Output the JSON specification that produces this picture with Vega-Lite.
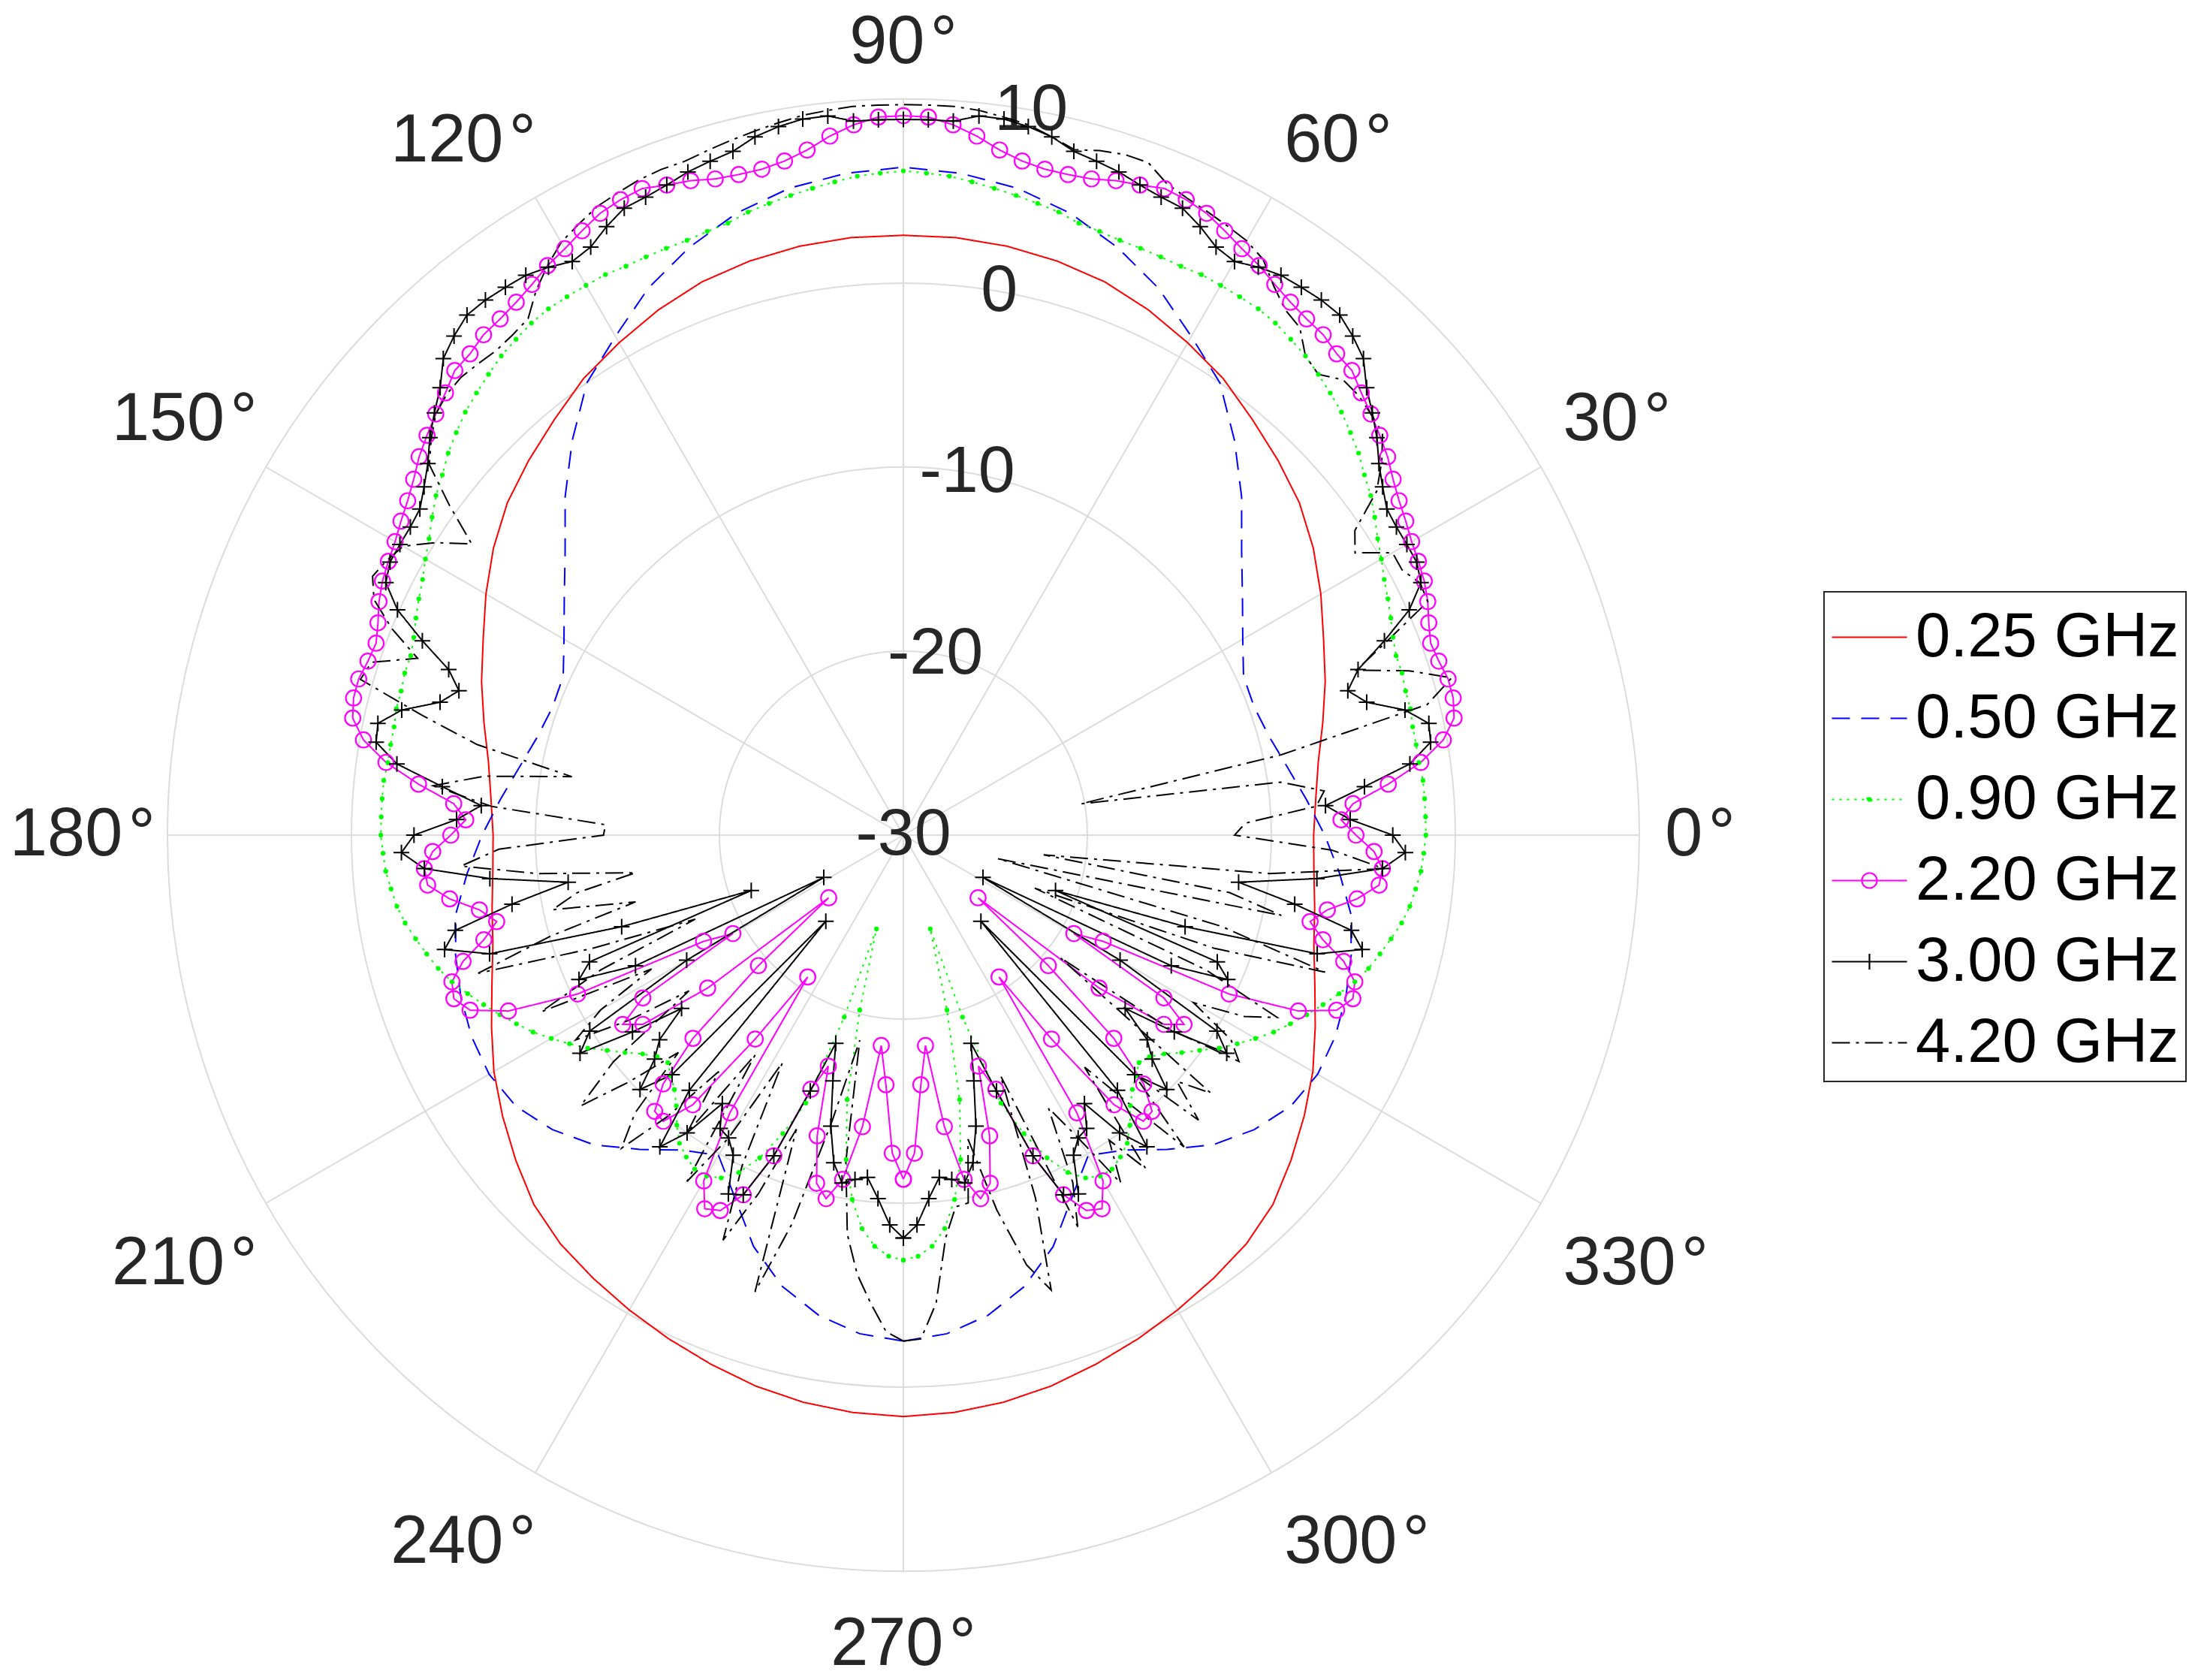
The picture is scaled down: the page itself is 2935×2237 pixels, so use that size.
{
  "$schema": "https://vega.github.io/schema/vega-lite/v6.json",
  "width": 1960,
  "height": 1960,
  "autosize": {"type": "none"},
  "padding": {"left": 223, "top": 132, "right": 752, "bottom": 145},
  "background": "#ffffff",
  "config": {"view": {"stroke": null}},
  "datasets": {
    "rings": [{"rr": 10}, {"rr": 20}, {"rr": 30}, {"rr": 40}],
    "spokes": [{"a": 0}, {"a": 30}, {"a": 60}, {"a": 90}, {"a": 120}, {"a": 150}, {"a": 180}, {"a": 210}, {"a": 240}, {"a": 270}, {"a": 300}, {"a": 330}],
    "alabels": [
      {"a": 0, "lab": "0\u200a°"}, {"a": 30, "lab": "30\u200a°"}, {"a": 60, "lab": "60\u200a°"}, {"a": 90, "lab": "90\u200a°"},
      {"a": 120, "lab": "120\u200a°"}, {"a": 150, "lab": "150\u200a°"}, {"a": 180, "lab": "180\u200a°"}, {"a": 210, "lab": "210\u200a°"},
      {"a": 240, "lab": "240\u200a°"}, {"a": 270, "lab": "270\u200a°"}, {"a": 300, "lab": "300\u200a°"}, {"a": 330, "lab": "330\u200a°"}
    ],
    "rlabels": [{"v": -30, "lab": "-30"}, {"v": -20, "lab": "-20"}, {"v": -10, "lab": "-10"}, {"v": 0, "lab": "0"}, {"v": 10, "lab": "10"}],
    "curves": [
      {"s":"0.25 GHz","t":-90,"r":1.6},{"s":"0.25 GHz","t":-85,"r":1.5},{"s":"0.25 GHz","t":-80,"r":1.3},{"s":"0.25 GHz","t":-75,"r":1.0},{"s":"0.25 GHz","t":-70,"r":0.6},{"s":"0.25 GHz","t":-65,"r":0.2},{"s":"0.25 GHz","t":-60,"r":-0.2},{"s":"0.25 GHz","t":-55,"r":-0.6},{"s":"0.25 GHz","t":-50,"r":-1.0},{"s":"0.25 GHz","t":-45,"r":-1.6},{"s":"0.25 GHz","t":-40,"r":-2.5},{"s":"0.25 GHz","t":-35,"r":-3.4},{"s":"0.25 GHz","t":-30,"r":-4.3},{"s":"0.25 GHz","t":-25,"r":-5.3},{"s":"0.25 GHz","t":-20,"r":-6.2},{"s":"0.25 GHz","t":-15,"r":-6.9},{"s":"0.25 GHz","t":-10,"r":-7.3},{"s":"0.25 GHz","t":-5,"r":-7.6},{"s":"0.25 GHz","t":0,"r":-7.7},{"s":"0.25 GHz","t":5,"r":-7.5},{"s":"0.25 GHz","t":10,"r":-7.1},{"s":"0.25 GHz","t":15,"r":-6.4},{"s":"0.25 GHz","t":20,"r":-5.6},{"s":"0.25 GHz","t":25,"r":-4.8},{"s":"0.25 GHz","t":30,"r":-3.8},{"s":"0.25 GHz","t":35,"r":-2.8},{"s":"0.25 GHz","t":40,"r":-1.9},{"s":"0.25 GHz","t":45,"r":-1.2},{"s":"0.25 GHz","t":50,"r":-0.5},{"s":"0.25 GHz","t":55,"r":0.3},{"s":"0.25 GHz","t":60,"r":0.9},{"s":"0.25 GHz","t":65,"r":1.5},{"s":"0.25 GHz","t":70,"r":2.0},{"s":"0.25 GHz","t":75,"r":2.3},{"s":"0.25 GHz","t":80,"r":2.5},{"s":"0.25 GHz","t":85,"r":2.6},{"s":"0.25 GHz","t":90,"r":2.6},{"s":"0.25 GHz","t":95,"r":2.6},{"s":"0.25 GHz","t":100,"r":2.5},{"s":"0.25 GHz","t":105,"r":2.3},{"s":"0.25 GHz","t":110,"r":2.0},{"s":"0.25 GHz","t":115,"r":1.5},{"s":"0.25 GHz","t":120,"r":0.9},{"s":"0.25 GHz","t":125,"r":0.3},{"s":"0.25 GHz","t":130,"r":-0.5},{"s":"0.25 GHz","t":135,"r":-1.2},{"s":"0.25 GHz","t":140,"r":-1.9},{"s":"0.25 GHz","t":145,"r":-2.8},{"s":"0.25 GHz","t":150,"r":-3.8},{"s":"0.25 GHz","t":155,"r":-4.8},{"s":"0.25 GHz","t":160,"r":-5.6},{"s":"0.25 GHz","t":165,"r":-6.4},{"s":"0.25 GHz","t":170,"r":-7.1},{"s":"0.25 GHz","t":175,"r":-7.5},{"s":"0.25 GHz","t":180,"r":-7.7},{"s":"0.25 GHz","t":185,"r":-7.6},{"s":"0.25 GHz","t":190,"r":-7.3},{"s":"0.25 GHz","t":195,"r":-6.9},{"s":"0.25 GHz","t":200,"r":-6.2},{"s":"0.25 GHz","t":205,"r":-5.3},{"s":"0.25 GHz","t":210,"r":-4.3},{"s":"0.25 GHz","t":215,"r":-3.4},{"s":"0.25 GHz","t":220,"r":-2.5},{"s":"0.25 GHz","t":225,"r":-1.6},{"s":"0.25 GHz","t":230,"r":-1.0},{"s":"0.25 GHz","t":235,"r":-0.6},{"s":"0.25 GHz","t":240,"r":-0.2},{"s":"0.25 GHz","t":245,"r":0.2},{"s":"0.25 GHz","t":250,"r":0.6},{"s":"0.25 GHz","t":255,"r":1.0},{"s":"0.25 GHz","t":260,"r":1.3},{"s":"0.25 GHz","t":265,"r":1.5},{"s":"0.25 GHz","t":270,"r":1.6},
      {"s":"0.50 GHz","t":-90,"r":-2.5},{"s":"0.50 GHz","t":-85,"r":-2.8},{"s":"0.50 GHz","t":-80,"r":-3.5},{"s":"0.50 GHz","t":-75,"r":-4.6},{"s":"0.50 GHz","t":-70,"r":-6.2},{"s":"0.50 GHz","t":-65,"r":-8.3},{"s":"0.50 GHz","t":-60,"r":-9.9},{"s":"0.50 GHz","t":-55,"r":-9.1},{"s":"0.50 GHz","t":-50,"r":-7.7},{"s":"0.50 GHz","t":-45,"r":-6.2},{"s":"0.50 GHz","t":-40,"r":-5.1},{"s":"0.50 GHz","t":-35,"r":-4.3},{"s":"0.50 GHz","t":-30,"r":-4.0},{"s":"0.50 GHz","t":-25,"r":-4.1},{"s":"0.50 GHz","t":-20,"r":-4.4},{"s":"0.50 GHz","t":-15,"r":-4.8},{"s":"0.50 GHz","t":-10,"r":-5.3},{"s":"0.50 GHz","t":-5,"r":-6.2},{"s":"0.50 GHz","t":0,"r":-7.1},{"s":"0.50 GHz","t":5,"r":-8.0},{"s":"0.50 GHz","t":10,"r":-8.8},{"s":"0.50 GHz","t":15,"r":-9.4},{"s":"0.50 GHz","t":20,"r":-9.7},{"s":"0.50 GHz","t":25,"r":-9.6},{"s":"0.50 GHz","t":30,"r":-8.7},{"s":"0.50 GHz","t":35,"r":-7.5},{"s":"0.50 GHz","t":40,"r":-6.0},{"s":"0.50 GHz","t":45,"r":-4.0},{"s":"0.50 GHz","t":50,"r":-2.0},{"s":"0.50 GHz","t":55,"r":0.0},{"s":"0.50 GHz","t":60,"r":1.3},{"s":"0.50 GHz","t":65,"r":2.8},{"s":"0.50 GHz","t":70,"r":4.0},{"s":"0.50 GHz","t":75,"r":5.0},{"s":"0.50 GHz","t":80,"r":5.7},{"s":"0.50 GHz","t":85,"r":6.1},{"s":"0.50 GHz","t":90,"r":6.3},{"s":"0.50 GHz","t":95,"r":6.1},{"s":"0.50 GHz","t":100,"r":5.7},{"s":"0.50 GHz","t":105,"r":5.0},{"s":"0.50 GHz","t":110,"r":4.0},{"s":"0.50 GHz","t":115,"r":2.8},{"s":"0.50 GHz","t":120,"r":1.3},{"s":"0.50 GHz","t":125,"r":0.0},{"s":"0.50 GHz","t":130,"r":-2.0},{"s":"0.50 GHz","t":135,"r":-4.0},{"s":"0.50 GHz","t":140,"r":-6.0},{"s":"0.50 GHz","t":145,"r":-7.5},{"s":"0.50 GHz","t":150,"r":-8.7},{"s":"0.50 GHz","t":155,"r":-9.6},{"s":"0.50 GHz","t":160,"r":-9.7},{"s":"0.50 GHz","t":165,"r":-9.4},{"s":"0.50 GHz","t":170,"r":-8.8},{"s":"0.50 GHz","t":175,"r":-8.0},{"s":"0.50 GHz","t":180,"r":-7.1},{"s":"0.50 GHz","t":185,"r":-6.2},{"s":"0.50 GHz","t":190,"r":-5.3},{"s":"0.50 GHz","t":195,"r":-4.8},{"s":"0.50 GHz","t":200,"r":-4.4},{"s":"0.50 GHz","t":205,"r":-4.1},{"s":"0.50 GHz","t":210,"r":-4.0},{"s":"0.50 GHz","t":215,"r":-4.3},{"s":"0.50 GHz","t":220,"r":-5.1},{"s":"0.50 GHz","t":225,"r":-6.2},{"s":"0.50 GHz","t":230,"r":-7.7},{"s":"0.50 GHz","t":235,"r":-9.1},{"s":"0.50 GHz","t":240,"r":-9.9},{"s":"0.50 GHz","t":245,"r":-8.3},{"s":"0.50 GHz","t":250,"r":-6.2},{"s":"0.50 GHz","t":255,"r":-4.6},{"s":"0.50 GHz","t":260,"r":-3.5},{"s":"0.50 GHz","t":265,"r":-2.8},{"s":"0.50 GHz","t":270,"r":-2.5},
      {"s":"0.90 GHz","t":-90,"r":-6.9},{"s":"0.90 GHz","t":-88,"r":-7.1},{"s":"0.90 GHz","t":-86,"r":-7.6},{"s":"0.90 GHz","t":-84,"r":-8.5},{"s":"0.90 GHz","t":-82,"r":-10.0},{"s":"0.90 GHz","t":-80,"r":-12.1},{"s":"0.90 GHz","t":-78,"r":-15.3},{"s":"0.90 GHz","t":-76,"r":-20.2},{"s":"0.90 GHz","t":-74,"r":-24.7},{"s":"0.90 GHz","t":-72,"r":-19.6},{"s":"0.90 GHz","t":-70,"r":-14.5},{"s":"0.90 GHz","t":-68,"r":-12.5},{"s":"0.90 GHz","t":-66,"r":-10.8},{"s":"0.90 GHz","t":-64,"r":-9.6},{"s":"0.90 GHz","t":-62,"r":-8.9},{"s":"0.90 GHz","t":-60,"r":-8.6},{"s":"0.90 GHz","t":-58,"r":-8.6},{"s":"0.90 GHz","t":-56,"r":-8.9},{"s":"0.90 GHz","t":-54,"r":-9.3},{"s":"0.90 GHz","t":-52,"r":-10.0},{"s":"0.90 GHz","t":-50,"r":-10.8},{"s":"0.90 GHz","t":-48,"r":-11.4},{"s":"0.90 GHz","t":-46,"r":-11.8},{"s":"0.90 GHz","t":-44,"r":-12.2},{"s":"0.90 GHz","t":-42,"r":-12.0},{"s":"0.90 GHz","t":-40,"r":-11.5},{"s":"0.90 GHz","t":-38,"r":-10.8},{"s":"0.90 GHz","t":-36,"r":-10.1},{"s":"0.90 GHz","t":-34,"r":-9.3},{"s":"0.90 GHz","t":-32,"r":-8.6},{"s":"0.90 GHz","t":-30,"r":-7.9},{"s":"0.90 GHz","t":-28,"r":-7.2},{"s":"0.90 GHz","t":-26,"r":-6.6},{"s":"0.90 GHz","t":-24,"r":-6.0},{"s":"0.90 GHz","t":-22,"r":-5.4},{"s":"0.90 GHz","t":-20,"r":-4.8},{"s":"0.90 GHz","t":-18,"r":-4.2},{"s":"0.90 GHz","t":-16,"r":-3.7},{"s":"0.90 GHz","t":-14,"r":-3.3},{"s":"0.90 GHz","t":-12,"r":-2.9},{"s":"0.90 GHz","t":-10,"r":-2.5},{"s":"0.90 GHz","t":-8,"r":-2.2},{"s":"0.90 GHz","t":-6,"r":-2.0},{"s":"0.90 GHz","t":-4,"r":-1.8},{"s":"0.90 GHz","t":-2,"r":-1.7},{"s":"0.90 GHz","t":0,"r":-1.6},{"s":"0.90 GHz","t":2,"r":-1.6},{"s":"0.90 GHz","t":4,"r":-1.6},{"s":"0.90 GHz","t":6,"r":-1.6},{"s":"0.90 GHz","t":8,"r":-1.7},{"s":"0.90 GHz","t":10,"r":-1.7},{"s":"0.90 GHz","t":12,"r":-1.7},{"s":"0.90 GHz","t":14,"r":-1.6},{"s":"0.90 GHz","t":16,"r":-1.6},{"s":"0.90 GHz","t":18,"r":-1.5},{"s":"0.90 GHz","t":20,"r":-1.5},{"s":"0.90 GHz","t":22,"r":-1.3},{"s":"0.90 GHz","t":24,"r":-1.0},{"s":"0.90 GHz","t":26,"r":-0.7},{"s":"0.90 GHz","t":28,"r":-0.4},{"s":"0.90 GHz","t":30,"r":0.0},{"s":"0.90 GHz","t":32,"r":0.4},{"s":"0.90 GHz","t":34,"r":0.9},{"s":"0.90 GHz","t":36,"r":1.4},{"s":"0.90 GHz","t":38,"r":1.8},{"s":"0.90 GHz","t":40,"r":2.3},{"s":"0.90 GHz","t":42,"r":2.7},{"s":"0.90 GHz","t":44,"r":3.1},{"s":"0.90 GHz","t":46,"r":3.4},{"s":"0.90 GHz","t":48,"r":3.7},{"s":"0.90 GHz","t":50,"r":4.0},{"s":"0.90 GHz","t":52,"r":4.2},{"s":"0.90 GHz","t":54,"r":4.4},{"s":"0.90 GHz","t":56,"r":4.5},{"s":"0.90 GHz","t":58,"r":4.5},{"s":"0.90 GHz","t":60,"r":4.5},{"s":"0.90 GHz","t":62,"r":4.5},{"s":"0.90 GHz","t":64,"r":4.4},{"s":"0.90 GHz","t":66,"r":4.4},{"s":"0.90 GHz","t":68,"r":4.4},{"s":"0.90 GHz","t":70,"r":4.4},{"s":"0.90 GHz","t":72,"r":4.5},{"s":"0.90 GHz","t":74,"r":4.6},{"s":"0.90 GHz","t":76,"r":4.9},{"s":"0.90 GHz","t":78,"r":5.1},{"s":"0.90 GHz","t":80,"r":5.3},{"s":"0.90 GHz","t":82,"r":5.5},{"s":"0.90 GHz","t":84,"r":5.7},{"s":"0.90 GHz","t":86,"r":5.9},{"s":"0.90 GHz","t":88,"r":6.0},{"s":"0.90 GHz","t":90,"r":6.1},{"s":"0.90 GHz","t":92,"r":6.0},{"s":"0.90 GHz","t":94,"r":5.9},{"s":"0.90 GHz","t":96,"r":5.7},{"s":"0.90 GHz","t":98,"r":5.5},{"s":"0.90 GHz","t":100,"r":5.3},{"s":"0.90 GHz","t":102,"r":5.1},{"s":"0.90 GHz","t":104,"r":4.9},{"s":"0.90 GHz","t":106,"r":4.6},{"s":"0.90 GHz","t":108,"r":4.5},{"s":"0.90 GHz","t":110,"r":4.4},{"s":"0.90 GHz","t":112,"r":4.4},{"s":"0.90 GHz","t":114,"r":4.4},{"s":"0.90 GHz","t":116,"r":4.4},{"s":"0.90 GHz","t":118,"r":4.5},{"s":"0.90 GHz","t":120,"r":4.5},{"s":"0.90 GHz","t":122,"r":4.5},{"s":"0.90 GHz","t":124,"r":4.5},{"s":"0.90 GHz","t":126,"r":4.4},{"s":"0.90 GHz","t":128,"r":4.2},{"s":"0.90 GHz","t":130,"r":4.0},{"s":"0.90 GHz","t":132,"r":3.7},{"s":"0.90 GHz","t":134,"r":3.4},{"s":"0.90 GHz","t":136,"r":3.1},{"s":"0.90 GHz","t":138,"r":2.7},{"s":"0.90 GHz","t":140,"r":2.3},{"s":"0.90 GHz","t":142,"r":1.8},{"s":"0.90 GHz","t":144,"r":1.4},{"s":"0.90 GHz","t":146,"r":0.9},{"s":"0.90 GHz","t":148,"r":0.4},{"s":"0.90 GHz","t":150,"r":0.0},{"s":"0.90 GHz","t":152,"r":-0.4},{"s":"0.90 GHz","t":154,"r":-0.7},{"s":"0.90 GHz","t":156,"r":-1.0},{"s":"0.90 GHz","t":158,"r":-1.3},{"s":"0.90 GHz","t":160,"r":-1.5},{"s":"0.90 GHz","t":162,"r":-1.5},{"s":"0.90 GHz","t":164,"r":-1.6},{"s":"0.90 GHz","t":166,"r":-1.6},{"s":"0.90 GHz","t":168,"r":-1.7},{"s":"0.90 GHz","t":170,"r":-1.7},{"s":"0.90 GHz","t":172,"r":-1.7},{"s":"0.90 GHz","t":174,"r":-1.6},{"s":"0.90 GHz","t":176,"r":-1.6},{"s":"0.90 GHz","t":178,"r":-1.6},{"s":"0.90 GHz","t":180,"r":-1.6},{"s":"0.90 GHz","t":182,"r":-1.7},{"s":"0.90 GHz","t":184,"r":-1.8},{"s":"0.90 GHz","t":186,"r":-2.0},{"s":"0.90 GHz","t":188,"r":-2.2},{"s":"0.90 GHz","t":190,"r":-2.5},{"s":"0.90 GHz","t":192,"r":-2.9},{"s":"0.90 GHz","t":194,"r":-3.3},{"s":"0.90 GHz","t":196,"r":-3.7},{"s":"0.90 GHz","t":198,"r":-4.2},{"s":"0.90 GHz","t":200,"r":-4.8},{"s":"0.90 GHz","t":202,"r":-5.4},{"s":"0.90 GHz","t":204,"r":-6.0},{"s":"0.90 GHz","t":206,"r":-6.6},{"s":"0.90 GHz","t":208,"r":-7.2},{"s":"0.90 GHz","t":210,"r":-7.9},{"s":"0.90 GHz","t":212,"r":-8.6},{"s":"0.90 GHz","t":214,"r":-9.3},{"s":"0.90 GHz","t":216,"r":-10.1},{"s":"0.90 GHz","t":218,"r":-10.8},{"s":"0.90 GHz","t":220,"r":-11.5},{"s":"0.90 GHz","t":222,"r":-12.0},{"s":"0.90 GHz","t":224,"r":-12.2},{"s":"0.90 GHz","t":226,"r":-11.8},{"s":"0.90 GHz","t":228,"r":-11.4},{"s":"0.90 GHz","t":230,"r":-10.8},{"s":"0.90 GHz","t":232,"r":-10.0},{"s":"0.90 GHz","t":234,"r":-9.3},{"s":"0.90 GHz","t":236,"r":-8.9},{"s":"0.90 GHz","t":238,"r":-8.6},{"s":"0.90 GHz","t":240,"r":-8.6},{"s":"0.90 GHz","t":242,"r":-8.9},{"s":"0.90 GHz","t":244,"r":-9.6},{"s":"0.90 GHz","t":246,"r":-10.8},{"s":"0.90 GHz","t":248,"r":-12.5},{"s":"0.90 GHz","t":250,"r":-14.5},{"s":"0.90 GHz","t":252,"r":-19.6},{"s":"0.90 GHz","t":254,"r":-24.7},{"s":"0.90 GHz","t":256,"r":-20.2},{"s":"0.90 GHz","t":258,"r":-15.3},{"s":"0.90 GHz","t":260,"r":-12.1},{"s":"0.90 GHz","t":262,"r":-10.0},{"s":"0.90 GHz","t":264,"r":-8.5},{"s":"0.90 GHz","t":266,"r":-7.6},{"s":"0.90 GHz","t":268,"r":-7.1},{"s":"0.90 GHz","t":270,"r":-6.9},
      {"s":"2.20 GHz","t":-90,"r":-11.3},{"s":"2.20 GHz","t":-88,"r":-12.7},{"s":"2.20 GHz","t":-86,"r":-16.4},{"s":"2.20 GHz","t":-84,"r":-18.5},{"s":"2.20 GHz","t":-82,"r":-14.0},{"s":"2.20 GHz","t":-80,"r":-11.0},{"s":"2.20 GHz","t":-78,"r":-9.8},{"s":"2.20 GHz","t":-76,"r":-10.5},{"s":"2.20 GHz","t":-74,"r":-13.0},{"s":"2.20 GHz","t":-72,"r":-16.8},{"s":"2.20 GHz","t":-70,"r":-15.3},{"s":"2.20 GHz","t":-68,"r":-11.2},{"s":"2.20 GHz","t":-66,"r":-8.6},{"s":"2.20 GHz","t":-64,"r":-7.3},{"s":"2.20 GHz","t":-62,"r":-7.0},{"s":"2.20 GHz","t":-60,"r":-8.3},{"s":"2.20 GHz","t":-58,"r":-12.2},{"s":"2.20 GHz","t":-56,"r":-20.7},{"s":"2.20 GHz","t":-54,"r":-16.3},{"s":"2.20 GHz","t":-52,"r":-11.4},{"s":"2.20 GHz","t":-50,"r":-9.7},{"s":"2.20 GHz","t":-48,"r":-9.8},{"s":"2.20 GHz","t":-46,"r":-11.2},{"s":"2.20 GHz","t":-44,"r":-14.1},{"s":"2.20 GHz","t":-42,"r":-19.4},{"s":"2.20 GHz","t":-40,"r":-24.7},{"s":"2.20 GHz","t":-38,"r":-16.5},{"s":"2.20 GHz","t":-36,"r":-12.5},{"s":"2.20 GHz","t":-34,"r":-11.6},{"s":"2.20 GHz","t":-32,"r":-13.3},{"s":"2.20 GHz","t":-30,"r":-19.3},{"s":"2.20 GHz","t":-28,"r":-17.7},{"s":"2.20 GHz","t":-26,"r":-10.3},{"s":"2.20 GHz","t":-24,"r":-6.5},{"s":"2.20 GHz","t":-22,"r":-4.6},{"s":"2.20 GHz","t":-20,"r":-4.0},{"s":"2.20 GHz","t":-18,"r":-4.2},{"s":"2.20 GHz","t":-16,"r":-5.1},{"s":"2.20 GHz","t":-14,"r":-6.5},{"s":"2.20 GHz","t":-12,"r":-7.4},{"s":"2.20 GHz","t":-10,"r":-6.6},{"s":"2.20 GHz","t":-8,"r":-5.1},{"s":"2.20 GHz","t":-6,"r":-4.0},{"s":"2.20 GHz","t":-4,"r":-3.9},{"s":"2.20 GHz","t":-2,"r":-4.4},{"s":"2.20 GHz","t":0,"r":-5.4},{"s":"2.20 GHz","t":2,"r":-6.2},{"s":"2.20 GHz","t":4,"r":-5.5},{"s":"2.20 GHz","t":6,"r":-3.5},{"s":"2.20 GHz","t":8,"r":-1.6},{"s":"2.20 GHz","t":10,"r":-0.2},{"s":"2.20 GHz","t":12,"r":0.6},{"s":"2.20 GHz","t":14,"r":0.8},{"s":"2.20 GHz","t":16,"r":0.8},{"s":"2.20 GHz","t":18,"r":0.6},{"s":"2.20 GHz","t":20,"r":0.5},{"s":"2.20 GHz","t":22,"r":0.8},{"s":"2.20 GHz","t":24,"r":1.2},{"s":"2.20 GHz","t":26,"r":1.5},{"s":"2.20 GHz","t":28,"r":1.7},{"s":"2.20 GHz","t":30,"r":1.9},{"s":"2.20 GHz","t":32,"r":2.2},{"s":"2.20 GHz","t":34,"r":2.5},{"s":"2.20 GHz","t":36,"r":2.9},{"s":"2.20 GHz","t":38,"r":3.4},{"s":"2.20 GHz","t":40,"r":3.8},{"s":"2.20 GHz","t":42,"r":4.2},{"s":"2.20 GHz","t":44,"r":4.6},{"s":"2.20 GHz","t":46,"r":5.1},{"s":"2.20 GHz","t":48,"r":5.2},{"s":"2.20 GHz","t":50,"r":5.5},{"s":"2.20 GHz","t":52,"r":5.6},{"s":"2.20 GHz","t":54,"r":5.8},{"s":"2.20 GHz","t":56,"r":6.1},{"s":"2.20 GHz","t":58,"r":6.5},{"s":"2.20 GHz","t":60,"r":6.8},{"s":"2.20 GHz","t":62,"r":7.2},{"s":"2.20 GHz","t":64,"r":7.6},{"s":"2.20 GHz","t":66,"r":7.8},{"s":"2.20 GHz","t":68,"r":7.9},{"s":"2.20 GHz","t":70,"r":7.6},{"s":"2.20 GHz","t":72,"r":7.4},{"s":"2.20 GHz","t":74,"r":7.1},{"s":"2.20 GHz","t":76,"r":7.0},{"s":"2.20 GHz","t":78,"r":7.0},{"s":"2.20 GHz","t":80,"r":7.2},{"s":"2.20 GHz","t":82,"r":7.6},{"s":"2.20 GHz","t":84,"r":8.2},{"s":"2.20 GHz","t":86,"r":8.7},{"s":"2.20 GHz","t":88,"r":9.05},{"s":"2.20 GHz","t":90,"r":9.1},{"s":"2.20 GHz","t":92,"r":9.05},{"s":"2.20 GHz","t":94,"r":8.7},{"s":"2.20 GHz","t":96,"r":8.2},{"s":"2.20 GHz","t":98,"r":7.6},{"s":"2.20 GHz","t":100,"r":7.2},{"s":"2.20 GHz","t":102,"r":7.0},{"s":"2.20 GHz","t":104,"r":7.0},{"s":"2.20 GHz","t":106,"r":7.1},{"s":"2.20 GHz","t":108,"r":7.4},{"s":"2.20 GHz","t":110,"r":7.6},{"s":"2.20 GHz","t":112,"r":7.9},{"s":"2.20 GHz","t":114,"r":7.8},{"s":"2.20 GHz","t":116,"r":7.6},{"s":"2.20 GHz","t":118,"r":7.2},{"s":"2.20 GHz","t":120,"r":6.8},{"s":"2.20 GHz","t":122,"r":6.5},{"s":"2.20 GHz","t":124,"r":6.1},{"s":"2.20 GHz","t":126,"r":5.8},{"s":"2.20 GHz","t":128,"r":5.6},{"s":"2.20 GHz","t":130,"r":5.5},{"s":"2.20 GHz","t":132,"r":5.2},{"s":"2.20 GHz","t":134,"r":5.1},{"s":"2.20 GHz","t":136,"r":4.6},{"s":"2.20 GHz","t":138,"r":4.2},{"s":"2.20 GHz","t":140,"r":3.8},{"s":"2.20 GHz","t":142,"r":3.4},{"s":"2.20 GHz","t":144,"r":2.9},{"s":"2.20 GHz","t":146,"r":2.5},{"s":"2.20 GHz","t":148,"r":2.2},{"s":"2.20 GHz","t":150,"r":1.9},{"s":"2.20 GHz","t":152,"r":1.7},{"s":"2.20 GHz","t":154,"r":1.5},{"s":"2.20 GHz","t":156,"r":1.2},{"s":"2.20 GHz","t":158,"r":0.8},{"s":"2.20 GHz","t":160,"r":0.5},{"s":"2.20 GHz","t":162,"r":0.6},{"s":"2.20 GHz","t":164,"r":0.8},{"s":"2.20 GHz","t":166,"r":0.8},{"s":"2.20 GHz","t":168,"r":0.6},{"s":"2.20 GHz","t":170,"r":-0.2},{"s":"2.20 GHz","t":172,"r":-1.6},{"s":"2.20 GHz","t":174,"r":-3.5},{"s":"2.20 GHz","t":176,"r":-5.5},{"s":"2.20 GHz","t":178,"r":-6.2},{"s":"2.20 GHz","t":180,"r":-5.4},{"s":"2.20 GHz","t":182,"r":-4.4},{"s":"2.20 GHz","t":184,"r":-3.9},{"s":"2.20 GHz","t":186,"r":-4.0},{"s":"2.20 GHz","t":188,"r":-5.1},{"s":"2.20 GHz","t":190,"r":-6.6},{"s":"2.20 GHz","t":192,"r":-7.4},{"s":"2.20 GHz","t":194,"r":-6.5},{"s":"2.20 GHz","t":196,"r":-5.1},{"s":"2.20 GHz","t":198,"r":-4.2},{"s":"2.20 GHz","t":200,"r":-4.0},{"s":"2.20 GHz","t":202,"r":-4.6},{"s":"2.20 GHz","t":204,"r":-6.5},{"s":"2.20 GHz","t":206,"r":-10.3},{"s":"2.20 GHz","t":208,"r":-17.7},{"s":"2.20 GHz","t":210,"r":-19.3},{"s":"2.20 GHz","t":212,"r":-13.3},{"s":"2.20 GHz","t":214,"r":-11.6},{"s":"2.20 GHz","t":216,"r":-12.5},{"s":"2.20 GHz","t":218,"r":-16.5},{"s":"2.20 GHz","t":220,"r":-24.7},{"s":"2.20 GHz","t":222,"r":-19.4},{"s":"2.20 GHz","t":224,"r":-14.1},{"s":"2.20 GHz","t":226,"r":-11.2},{"s":"2.20 GHz","t":228,"r":-9.8},{"s":"2.20 GHz","t":230,"r":-9.7},{"s":"2.20 GHz","t":232,"r":-11.4},{"s":"2.20 GHz","t":234,"r":-16.3},{"s":"2.20 GHz","t":236,"r":-20.7},{"s":"2.20 GHz","t":238,"r":-12.2},{"s":"2.20 GHz","t":240,"r":-8.3},{"s":"2.20 GHz","t":242,"r":-7.0},{"s":"2.20 GHz","t":244,"r":-7.3},{"s":"2.20 GHz","t":246,"r":-8.6},{"s":"2.20 GHz","t":248,"r":-11.2},{"s":"2.20 GHz","t":250,"r":-15.3},{"s":"2.20 GHz","t":252,"r":-16.8},{"s":"2.20 GHz","t":254,"r":-13.0},{"s":"2.20 GHz","t":256,"r":-10.5},{"s":"2.20 GHz","t":258,"r":-9.8},{"s":"2.20 GHz","t":260,"r":-11.0},{"s":"2.20 GHz","t":262,"r":-14.0},{"s":"2.20 GHz","t":264,"r":-18.5},{"s":"2.20 GHz","t":266,"r":-16.4},{"s":"2.20 GHz","t":268,"r":-12.7},{"s":"2.20 GHz","t":270,"r":-11.3},
      {"s":"3.00 GHz","t":-90,"r":-8.1},{"s":"3.00 GHz","t":-88,"r":-8.8},{"s":"3.00 GHz","t":-86,"r":-10.2},{"s":"3.00 GHz","t":-84,"r":-11.3},{"s":"3.00 GHz","t":-82,"r":-11.1},{"s":"3.00 GHz","t":-80,"r":-10.8},{"s":"3.00 GHz","t":-78,"r":-11.8},{"s":"3.00 GHz","t":-76,"r":-13.7},{"s":"3.00 GHz","t":-74,"r":-16.1},{"s":"3.00 GHz","t":-72,"r":-18.1},{"s":"3.00 GHz","t":-70,"r":-15.2},{"s":"3.00 GHz","t":-68,"r":-11.2},{"s":"3.00 GHz","t":-66,"r":-8.6},{"s":"3.00 GHz","t":-64,"r":-8.3},{"s":"3.00 GHz","t":-62,"r":-10.3},{"s":"3.00 GHz","t":-60,"r":-11.0},{"s":"3.00 GHz","t":-58,"r":-11.2},{"s":"3.00 GHz","t":-56,"r":-12.4},{"s":"3.00 GHz","t":-54,"r":-10.0},{"s":"3.00 GHz","t":-52,"r":-8.5},{"s":"3.00 GHz","t":-50,"r":-11.9},{"s":"3.00 GHz","t":-48,"r":-23.7},{"s":"3.00 GHz","t":-46,"r":-11.9},{"s":"3.00 GHz","t":-44,"r":-10.1},{"s":"3.00 GHz","t":-42,"r":-11.8},{"s":"3.00 GHz","t":-40,"r":-12.7},{"s":"3.00 GHz","t":-38,"r":-14.7},{"s":"3.00 GHz","t":-36,"r":-11.8},{"s":"3.00 GHz","t":-34,"r":-8.8},{"s":"3.00 GHz","t":-32,"r":-9.9},{"s":"3.00 GHz","t":-30,"r":-16.4},{"s":"3.00 GHz","t":-28,"r":-25.1},{"s":"3.00 GHz","t":-26,"r":-13.8},{"s":"3.00 GHz","t":-24,"r":-10.7},{"s":"3.00 GHz","t":-22,"r":-11.6},{"s":"3.00 GHz","t":-20,"r":-21.2},{"s":"3.00 GHz","t":-18,"r":-13.9},{"s":"3.00 GHz","t":-16,"r":-6.6},{"s":"3.00 GHz","t":-14,"r":-4.3},{"s":"3.00 GHz","t":-12,"r":-5.1},{"s":"3.00 GHz","t":-10,"r":-8.4},{"s":"3.00 GHz","t":-8,"r":-11.6},{"s":"3.00 GHz","t":-6,"r":-7.4},{"s":"3.00 GHz","t":-4,"r":-3.9},{"s":"3.00 GHz","t":-2,"r":-2.7},{"s":"3.00 GHz","t":0,"r":-3.4},{"s":"3.00 GHz","t":2,"r":-5.7},{"s":"3.00 GHz","t":4,"r":-7.0},{"s":"3.00 GHz","t":6,"r":-4.8},{"s":"3.00 GHz","t":8,"r":-2.2},{"s":"3.00 GHz","t":10,"r":-0.9},{"s":"3.00 GHz","t":12,"r":-0.8},{"s":"3.00 GHz","t":14,"r":-1.9},{"s":"3.00 GHz","t":16,"r":-3.8},{"s":"3.00 GHz","t":18,"r":-4.6},{"s":"3.00 GHz","t":20,"r":-3.7},{"s":"3.00 GHz","t":22,"r":-1.8},{"s":"3.00 GHz","t":24,"r":0.1},{"s":"3.00 GHz","t":26,"r":1.3},{"s":"3.00 GHz","t":28,"r":1.6},{"s":"3.00 GHz","t":30,"r":1.6},{"s":"3.00 GHz","t":32,"r":1.6},{"s":"3.00 GHz","t":34,"r":1.7},{"s":"3.00 GHz","t":36,"r":2.2},{"s":"3.00 GHz","t":38,"r":2.8},{"s":"3.00 GHz","t":40,"r":3.6},{"s":"3.00 GHz","t":42,"r":4.3},{"s":"3.00 GHz","t":44,"r":5.0},{"s":"3.00 GHz","t":46,"r":6.0},{"s":"3.00 GHz","t":48,"r":6.5},{"s":"3.00 GHz","t":50,"r":6.9},{"s":"3.00 GHz","t":52,"r":6.9},{"s":"3.00 GHz","t":54,"r":6.8},{"s":"3.00 GHz","t":56,"r":6.7},{"s":"3.00 GHz","t":58,"r":6.4},{"s":"3.00 GHz","t":60,"r":6.0},{"s":"3.00 GHz","t":62,"r":6.2},{"s":"3.00 GHz","t":64,"r":6.8},{"s":"3.00 GHz","t":66,"r":7.3},{"s":"3.00 GHz","t":68,"r":7.4},{"s":"3.00 GHz","t":70,"r":7.6},{"s":"3.00 GHz","t":72,"r":7.9},{"s":"3.00 GHz","t":74,"r":8.1},{"s":"3.00 GHz","t":76,"r":8.3},{"s":"3.00 GHz","t":78,"r":8.8},{"s":"3.00 GHz","t":80,"r":9.1},{"s":"3.00 GHz","t":82,"r":9.3},{"s":"3.00 GHz","t":84,"r":9.3},{"s":"3.00 GHz","t":86,"r":8.9},{"s":"3.00 GHz","t":88,"r":8.9},{"s":"3.00 GHz","t":90,"r":8.9},{"s":"3.00 GHz","t":92,"r":8.9},{"s":"3.00 GHz","t":94,"r":8.9},{"s":"3.00 GHz","t":96,"r":9.3},{"s":"3.00 GHz","t":98,"r":9.3},{"s":"3.00 GHz","t":100,"r":9.1},{"s":"3.00 GHz","t":102,"r":8.8},{"s":"3.00 GHz","t":104,"r":8.3},{"s":"3.00 GHz","t":106,"r":8.1},{"s":"3.00 GHz","t":108,"r":7.9},{"s":"3.00 GHz","t":110,"r":7.6},{"s":"3.00 GHz","t":112,"r":7.4},{"s":"3.00 GHz","t":114,"r":7.3},{"s":"3.00 GHz","t":116,"r":6.8},{"s":"3.00 GHz","t":118,"r":6.2},{"s":"3.00 GHz","t":120,"r":6.0},{"s":"3.00 GHz","t":122,"r":6.4},{"s":"3.00 GHz","t":124,"r":6.7},{"s":"3.00 GHz","t":126,"r":6.8},{"s":"3.00 GHz","t":128,"r":6.9},{"s":"3.00 GHz","t":130,"r":6.9},{"s":"3.00 GHz","t":132,"r":6.5},{"s":"3.00 GHz","t":134,"r":6.0},{"s":"3.00 GHz","t":136,"r":5.0},{"s":"3.00 GHz","t":138,"r":4.3},{"s":"3.00 GHz","t":140,"r":3.6},{"s":"3.00 GHz","t":142,"r":2.8},{"s":"3.00 GHz","t":144,"r":2.2},{"s":"3.00 GHz","t":146,"r":1.7},{"s":"3.00 GHz","t":148,"r":1.6},{"s":"3.00 GHz","t":150,"r":1.6},{"s":"3.00 GHz","t":152,"r":1.6},{"s":"3.00 GHz","t":154,"r":1.3},{"s":"3.00 GHz","t":156,"r":0.1},{"s":"3.00 GHz","t":158,"r":-1.8},{"s":"3.00 GHz","t":160,"r":-3.7},{"s":"3.00 GHz","t":162,"r":-4.6},{"s":"3.00 GHz","t":164,"r":-3.8},{"s":"3.00 GHz","t":166,"r":-1.9},{"s":"3.00 GHz","t":168,"r":-0.8},{"s":"3.00 GHz","t":170,"r":-0.9},{"s":"3.00 GHz","t":172,"r":-2.2},{"s":"3.00 GHz","t":174,"r":-4.8},{"s":"3.00 GHz","t":176,"r":-7.0},{"s":"3.00 GHz","t":178,"r":-5.7},{"s":"3.00 GHz","t":180,"r":-3.4},{"s":"3.00 GHz","t":182,"r":-2.7},{"s":"3.00 GHz","t":184,"r":-3.9},{"s":"3.00 GHz","t":186,"r":-7.4},{"s":"3.00 GHz","t":188,"r":-11.6},{"s":"3.00 GHz","t":190,"r":-8.4},{"s":"3.00 GHz","t":192,"r":-5.1},{"s":"3.00 GHz","t":194,"r":-4.3},{"s":"3.00 GHz","t":196,"r":-6.6},{"s":"3.00 GHz","t":198,"r":-13.9},{"s":"3.00 GHz","t":200,"r":-21.2},{"s":"3.00 GHz","t":202,"r":-11.6},{"s":"3.00 GHz","t":204,"r":-10.7},{"s":"3.00 GHz","t":206,"r":-13.8},{"s":"3.00 GHz","t":208,"r":-25.1},{"s":"3.00 GHz","t":210,"r":-16.4},{"s":"3.00 GHz","t":212,"r":-9.9},{"s":"3.00 GHz","t":214,"r":-8.8},{"s":"3.00 GHz","t":216,"r":-11.8},{"s":"3.00 GHz","t":218,"r":-14.7},{"s":"3.00 GHz","t":220,"r":-12.7},{"s":"3.00 GHz","t":222,"r":-11.8},{"s":"3.00 GHz","t":224,"r":-10.1},{"s":"3.00 GHz","t":226,"r":-11.9},{"s":"3.00 GHz","t":228,"r":-23.7},{"s":"3.00 GHz","t":230,"r":-11.9},{"s":"3.00 GHz","t":232,"r":-8.5},{"s":"3.00 GHz","t":234,"r":-10.0},{"s":"3.00 GHz","t":236,"r":-12.4},{"s":"3.00 GHz","t":238,"r":-11.2},{"s":"3.00 GHz","t":240,"r":-11.0},{"s":"3.00 GHz","t":242,"r":-10.3},{"s":"3.00 GHz","t":244,"r":-8.3},{"s":"3.00 GHz","t":246,"r":-8.6},{"s":"3.00 GHz","t":248,"r":-11.2},{"s":"3.00 GHz","t":250,"r":-15.2},{"s":"3.00 GHz","t":252,"r":-18.1},{"s":"3.00 GHz","t":254,"r":-16.1},{"s":"3.00 GHz","t":256,"r":-13.7},{"s":"3.00 GHz","t":258,"r":-11.8},{"s":"3.00 GHz","t":260,"r":-10.8},{"s":"3.00 GHz","t":262,"r":-11.1},{"s":"3.00 GHz","t":264,"r":-11.3},{"s":"3.00 GHz","t":266,"r":-10.2},{"s":"3.00 GHz","t":268,"r":-8.8},{"s":"3.00 GHz","t":270,"r":-8.1},
      {"s":"4.20 GHz","t":-90,"r":-2.5},{"s":"4.20 GHz","t":-88,"r":-2.6},{"s":"4.20 GHz","t":-86,"r":-4.5},{"s":"4.20 GHz","t":-84,"r":-8.0},{"s":"4.20 GHz","t":-82,"r":-9.6},{"s":"4.20 GHz","t":-80,"r":-9.7},{"s":"4.20 GHz","t":-78,"r":-13.1},{"s":"4.20 GHz","t":-76,"r":-9.0},{"s":"4.20 GHz","t":-74,"r":-5.7},{"s":"4.20 GHz","t":-72,"r":-4.0},{"s":"4.20 GHz","t":-70,"r":-9.0},{"s":"4.20 GHz","t":-68,"r":-15.9},{"s":"4.20 GHz","t":-66,"r":-6.7},{"s":"4.20 GHz","t":-64,"r":-9.0},{"s":"4.20 GHz","t":-62,"r":-13.2},{"s":"4.20 GHz","t":-60,"r":-11.0},{"s":"4.20 GHz","t":-58,"r":-7.7},{"s":"4.20 GHz","t":-56,"r":-10.0},{"s":"4.20 GHz","t":-54,"r":-7.6},{"s":"4.20 GHz","t":-52,"r":-14.0},{"s":"4.20 GHz","t":-50,"r":-11.0},{"s":"4.20 GHz","t":-48,"r":-7.2},{"s":"4.20 GHz","t":-46,"r":-12.0},{"s":"4.20 GHz","t":-44,"r":-7.7},{"s":"4.20 GHz","t":-42,"r":-10.0},{"s":"4.20 GHz","t":-40,"r":-8.2},{"s":"4.20 GHz","t":-38,"r":-19.2},{"s":"4.20 GHz","t":-36,"r":-12.0},{"s":"4.20 GHz","t":-34,"r":-8.0},{"s":"4.20 GHz","t":-32,"r":-9.0},{"s":"4.20 GHz","t":-30,"r":-11.8},{"s":"4.20 GHz","t":-28,"r":-9.0},{"s":"4.20 GHz","t":-26,"r":-7.4},{"s":"4.20 GHz","t":-24,"r":-12.0},{"s":"4.20 GHz","t":-22,"r":-22.3},{"s":"4.20 GHz","t":-20,"r":-12.0},{"s":"4.20 GHz","t":-18,"r":-5.9},{"s":"4.20 GHz","t":-16,"r":-12.0},{"s":"4.20 GHz","t":-14,"r":-24.7},{"s":"4.20 GHz","t":-12,"r":-9.0},{"s":"4.20 GHz","t":-10,"r":-12.0},{"s":"4.20 GHz","t":-8,"r":-22.3},{"s":"4.20 GHz","t":-6,"r":-10.0},{"s":"4.20 GHz","t":-4,"r":-3.8},{"s":"4.20 GHz","t":-2,"r":-6.7},{"s":"4.20 GHz","t":0,"r":-12.0},{"s":"4.20 GHz","t":2,"r":-11.4},{"s":"4.20 GHz","t":4,"r":-7.5},{"s":"4.20 GHz","t":6,"r":-7.0},{"s":"4.20 GHz","t":8,"r":-9.3},{"s":"4.20 GHz","t":10,"r":-20.2},{"s":"4.20 GHz","t":12,"r":-9.0},{"s":"4.20 GHz","t":14,"r":-0.65},{"s":"4.20 GHz","t":16,"r":1.0},{"s":"4.20 GHz","t":18,"r":-1.1},{"s":"4.20 GHz","t":20,"r":-3.8},{"s":"4.20 GHz","t":22,"r":-1.5},{"s":"4.20 GHz","t":24,"r":1.2},{"s":"4.20 GHz","t":26,"r":1.25},{"s":"4.20 GHz","t":28,"r":0.7},{"s":"4.20 GHz","t":30,"r":0.7},{"s":"4.20 GHz","t":32,"r":-1.05},{"s":"4.20 GHz","t":34,"r":-0.4},{"s":"4.20 GHz","t":36,"r":1.8},{"s":"4.20 GHz","t":38,"r":3.0},{"s":"4.20 GHz","t":40,"r":4.0},{"s":"4.20 GHz","t":42,"r":4.2},{"s":"4.20 GHz","t":44,"r":4.4},{"s":"4.20 GHz","t":46,"r":4.4},{"s":"4.20 GHz","t":48,"r":3.7},{"s":"4.20 GHz","t":50,"r":4.0},{"s":"4.20 GHz","t":52,"r":5.0},{"s":"4.20 GHz","t":54,"r":5.3},{"s":"4.20 GHz","t":56,"r":6.0},{"s":"4.20 GHz","t":58,"r":6.9},{"s":"4.20 GHz","t":60,"r":7.3},{"s":"4.20 GHz","t":62,"r":7.5},{"s":"4.20 GHz","t":64,"r":7.7},{"s":"4.20 GHz","t":66,"r":7.9},{"s":"4.20 GHz","t":68,"r":8.2},{"s":"4.20 GHz","t":70,"r":8.9},{"s":"4.20 GHz","t":72,"r":8.9},{"s":"4.20 GHz","t":74,"r":8.7},{"s":"4.20 GHz","t":76,"r":8.4},{"s":"4.20 GHz","t":78,"r":8.8},{"s":"4.20 GHz","t":80,"r":9.2},{"s":"4.20 GHz","t":82,"r":9.4},{"s":"4.20 GHz","t":84,"r":9.6},{"s":"4.20 GHz","t":86,"r":9.7},{"s":"4.20 GHz","t":88,"r":9.7},{"s":"4.20 GHz","t":90,"r":9.7},{"s":"4.20 GHz","t":92,"r":9.7},{"s":"4.20 GHz","t":94,"r":9.7},{"s":"4.20 GHz","t":96,"r":9.6},{"s":"4.20 GHz","t":98,"r":9.5},{"s":"4.20 GHz","t":100,"r":9.3},{"s":"4.20 GHz","t":102,"r":9.1},{"s":"4.20 GHz","t":104,"r":8.9},{"s":"4.20 GHz","t":106,"r":8.7},{"s":"4.20 GHz","t":108,"r":8.5},{"s":"4.20 GHz","t":110,"r":8.5},{"s":"4.20 GHz","t":112,"r":8.4},{"s":"4.20 GHz","t":114,"r":8.2},{"s":"4.20 GHz","t":116,"r":8.0},{"s":"4.20 GHz","t":118,"r":7.6},{"s":"4.20 GHz","t":120,"r":7.2},{"s":"4.20 GHz","t":122,"r":6.5},{"s":"4.20 GHz","t":124,"r":5.7},{"s":"4.20 GHz","t":126,"r":4.7},{"s":"4.20 GHz","t":128,"r":4.5},{"s":"4.20 GHz","t":130,"r":4.4},{"s":"4.20 GHz","t":132,"r":4.5},{"s":"4.20 GHz","t":134,"r":4.6},{"s":"4.20 GHz","t":136,"r":4.5},{"s":"4.20 GHz","t":138,"r":4.2},{"s":"4.20 GHz","t":140,"r":3.5},{"s":"4.20 GHz","t":142,"r":2.7},{"s":"4.20 GHz","t":144,"r":0.5},{"s":"4.20 GHz","t":146,"r":-1.7},{"s":"4.20 GHz","t":148,"r":0.0},{"s":"4.20 GHz","t":150,"r":1.4},{"s":"4.20 GHz","t":152,"r":1.8},{"s":"4.20 GHz","t":154,"r":2.1},{"s":"4.20 GHz","t":156,"r":1.5},{"s":"4.20 GHz","t":158,"r":0.0},{"s":"4.20 GHz","t":160,"r":-1.9},{"s":"4.20 GHz","t":162,"r":0.4},{"s":"4.20 GHz","t":164,"r":0.7},{"s":"4.20 GHz","t":166,"r":-3.0},{"s":"4.20 GHz","t":168,"r":-6.3},{"s":"4.20 GHz","t":170,"r":-11.7},{"s":"4.20 GHz","t":172,"r":-7.0},{"s":"4.20 GHz","t":174,"r":-4.3},{"s":"4.20 GHz","t":176,"r":-7.55},{"s":"4.20 GHz","t":178,"r":-13.8},{"s":"4.20 GHz","t":180,"r":-13.7},{"s":"4.20 GHz","t":182,"r":-8.0},{"s":"4.20 GHz","t":184,"r":-5.9},{"s":"4.20 GHz","t":186,"r":-10.0},{"s":"4.20 GHz","t":188,"r":-15.3},{"s":"4.20 GHz","t":190,"r":-12.0},{"s":"4.20 GHz","t":192,"r":-10.5},{"s":"4.20 GHz","t":194,"r":-15.0},{"s":"4.20 GHz","t":196,"r":-10.0},{"s":"4.20 GHz","t":198,"r":-5.7},{"s":"4.20 GHz","t":200,"r":-12.0},{"s":"4.20 GHz","t":202,"r":-17.8},{"s":"4.20 GHz","t":204,"r":-12.0},{"s":"4.20 GHz","t":206,"r":-8.1},{"s":"4.20 GHz","t":208,"r":-14.5},{"s":"4.20 GHz","t":210,"r":-11.0},{"s":"4.20 GHz","t":212,"r":-9.0},{"s":"4.20 GHz","t":214,"r":-12.0},{"s":"4.20 GHz","t":216,"r":-15.6},{"s":"4.20 GHz","t":218,"r":-10.0},{"s":"4.20 GHz","t":220,"r":-7.1},{"s":"4.20 GHz","t":222,"r":-10.0},{"s":"4.20 GHz","t":224,"r":-13.0},{"s":"4.20 GHz","t":226,"r":-9.0},{"s":"4.20 GHz","t":228,"r":-7.1},{"s":"4.20 GHz","t":230,"r":-10.0},{"s":"4.20 GHz","t":232,"r":-13.7},{"s":"4.20 GHz","t":234,"r":-10.0},{"s":"4.20 GHz","t":236,"r":-15.6},{"s":"4.20 GHz","t":238,"r":-7.8},{"s":"4.20 GHz","t":240,"r":-11.0},{"s":"4.20 GHz","t":242,"r":-16.0},{"s":"4.20 GHz","t":244,"r":-10.0},{"s":"4.20 GHz","t":246,"r":-5.9},{"s":"4.20 GHz","t":248,"r":-9.0},{"s":"4.20 GHz","t":250,"r":-13.0},{"s":"4.20 GHz","t":252,"r":-3.9},{"s":"4.20 GHz","t":254,"r":-8.0},{"s":"4.20 GHz","t":256,"r":-14.0},{"s":"4.20 GHz","t":258,"r":-18.6},{"s":"4.20 GHz","t":260,"r":-12.0},{"s":"4.20 GHz","t":262,"r":-8.1},{"s":"4.20 GHz","t":264,"r":-6.0},{"s":"4.20 GHz","t":266,"r":-4.5},{"s":"4.20 GHz","t":268,"r":-3.0},{"s":"4.20 GHz","t":270,"r":-2.5}
    ]
  },
  "layer": [
    {
      "data": {"name": "rings"},
      "transform": [{"calculate": "0", "as": "cx"}, {"calculate": "0", "as": "cy"}],
      "mark": {"type": "point", "shape": "circle", "filled": false, "stroke": "#dcdcdc", "strokeWidth": 2, "opacity": 1},
      "encoding": {
        "x": {"field": "cx", "type": "quantitative", "scale": {"domain": [-40, 40], "nice": false, "zero": false}, "axis": null},
        "y": {"field": "cy", "type": "quantitative", "scale": {"domain": [-40, 40], "nice": false, "zero": false}, "axis": null},
        "size": {"field": "rr", "type": "quantitative", "scale": {"type": "pow", "exponent": 2, "domain": [0, 40], "range": [0, 3841600], "zero": true}, "legend": null}
      }
    },
    {
      "data": {"name": "spokes"},
      "transform": [
        {"calculate": "0", "as": "cx"},
        {"calculate": "0", "as": "cy"},
        {"calculate": "40*cos(datum.a*PI/180)", "as": "sx"},
        {"calculate": "40*sin(datum.a*PI/180)", "as": "sy"}
      ],
      "mark": {"type": "rule", "stroke": "#dcdcdc", "strokeWidth": 2},
      "encoding": {
        "x": {"field": "cx", "type": "quantitative"},
        "y": {"field": "cy", "type": "quantitative"},
        "x2": {"field": "sx"},
        "y2": {"field": "sy"}
      }
    },
    {
      "data": {"name": "rlabels"},
      "transform": [
        {"calculate": "(datum.v+30)*cos(80*PI/180)", "as": "lx"},
        {"calculate": "(datum.v+30)*sin(80*PI/180)", "as": "ly"}
      ],
      "mark": {"type": "text", "font": "Liberation Sans", "fontSize": 88, "color": "#262626", "align": "center", "baseline": "middle"},
      "encoding": {
        "x": {"field": "lx", "type": "quantitative"},
        "y": {"field": "ly", "type": "quantitative"},
        "text": {"field": "lab", "type": "nominal"}
      }
    },
    {
      "data": {"name": "alabels"},
      "transform": [
        {"calculate": "41.4*cos(datum.a*PI/180)", "as": "lx"},
        {"calculate": "41.4*sin(datum.a*PI/180)", "as": "ly"}
      ],
      "mark": {
        "type": "text", "font": "Liberation Sans", "fontSize": 90, "color": "#262626",
        "align": {"expr": "abs(cos(datum.a*PI/180)) < 0.01 ? 'center' : (cos(datum.a*PI/180) > 0 ? 'left' : 'right')"},
        "baseline": {"expr": "abs(sin(datum.a*PI/180)) < 0.01 ? 'middle' : (sin(datum.a*PI/180) > 0 ? 'bottom' : 'top')"},
        "dx": {"expr": "cos(datum.a*PI/180) < -0.01 ? 18 : 0"},
        "dy": {"expr": "sin(datum.a*PI/180) < -0.01 ? 20 : (sin(datum.a*PI/180) > 0.99 ? 5 : 0)"}
      },
      "encoding": {
        "x": {"field": "lx", "type": "quantitative"},
        "y": {"field": "ly", "type": "quantitative"},
        "text": {"field": "lab", "type": "nominal"}
      }
    },
    {
      "data": {"name": "curves"},
      "transform": [
        {"calculate": "(datum.r+30)*cos(datum.t*PI/180)", "as": "px"},
        {"calculate": "(datum.r+30)*sin(datum.t*PI/180)", "as": "py"}
      ],
      "layer": [
        {
          "mark": {"type": "line", "strokeWidth": 2},
          "encoding": {
            "x": {"field": "px", "type": "quantitative"},
            "y": {"field": "py", "type": "quantitative"},
            "order": {"field": "t", "type": "quantitative"},
            "color": {
              "field": "s", "type": "nominal",
              "scale": {"domain": ["0.25 GHz", "0.50 GHz", "0.90 GHz", "2.20 GHz", "3.00 GHz", "4.20 GHz"], "range": ["#ff0000", "#0000ff", "#00ff00", "#ff00ff", "#000000", "#000000"]},
              "legend": {
                "title": null,
                "orient": "none",
                "legendX": 2206,
                "legendY": 656,
                "direction": "vertical",
                "symbolSize": 10000,
                "symbolStrokeWidth": 2.2,
                "labelFont": "Liberation Sans",
                "labelFontSize": 83,
                "labelColor": "#000000",
                "labelOffset": 10,
                "labelLimit": 2000,
                "padding": 9,
                "rowPadding": 14,
                "strokeColor": "#262626",
                "fillColor": "#ffffff",
                "encode": {
                  "symbols": {
                    "update": {
                      "shape": {"signal": "datum.value === '2.20 GHz' ? 'M-1,0H1M-0.2,0A0.2,0.2 0 1,1 0.2,0A0.2,0.2 0 1,1 -0.2,0' : (datum.value === '3.00 GHz' ? 'M-1,0H1M0,-0.21V0.21' : (datum.value === '0.90 GHz' ? 'M-1,0H1M-0.065,0A0.065,0.065 0 1,1 0.065,0A0.065,0.065 0 1,1 -0.065,0' : 'M-1,0H1'))"},
                      "strokeDash": {"signal": "datum.value === '0.50 GHz' ? [24,15] : (datum.value === '0.90 GHz' ? [3,7] : (datum.value === '4.20 GHz' ? [24,8,4,8] : [1,0]))"},
                      "fill": {"signal": "datum.value === '0.90 GHz' ? '#00ff00' : 'transparent'"},
                      "strokeWidth": {"value": 2.2},
                      "opacity": {"value": 1}
                    }
                  },
                  "legend": {"update": {"strokeWidth": {"value": 2}}}
                }
              }
            },
            "strokeDash": {
              "field": "s", "type": "nominal",
              "scale": {"domain": ["0.25 GHz", "0.50 GHz", "0.90 GHz", "2.20 GHz", "3.00 GHz", "4.20 GHz"], "range": [[1, 0], [24, 15], [3, 7], [1, 0], [1, 0], [24, 8, 4, 8]]},
              "legend": null
            }
          }
        },
        {
          "transform": [{"filter": "datum.s === '0.90 GHz'"}],
          "mark": {"type": "point", "shape": "circle", "size": 40, "filled": true, "fill": "#00ff00", "strokeWidth": 0, "opacity": 1},
          "encoding": {
            "x": {"field": "px", "type": "quantitative"},
            "y": {"field": "py", "type": "quantitative"}
          }
        },
        {
          "transform": [{"filter": "datum.s === '2.20 GHz'"}],
          "mark": {"type": "point", "shape": "circle", "size": 420, "filled": false, "stroke": "#ff00ff", "strokeWidth": 2.2, "opacity": 1},
          "encoding": {
            "x": {"field": "px", "type": "quantitative"},
            "y": {"field": "py", "type": "quantitative"}
          }
        },
        {
          "transform": [{"filter": "datum.s === '3.00 GHz'"}],
          "mark": {"type": "point", "shape": "M-1,0H1M0,-1V1", "size": 441, "filled": false, "stroke": "#000000", "strokeWidth": 2, "opacity": 1},
          "encoding": {
            "x": {"field": "px", "type": "quantitative"},
            "y": {"field": "py", "type": "quantitative"}
          }
        }
      ]
    }
  ]
}
